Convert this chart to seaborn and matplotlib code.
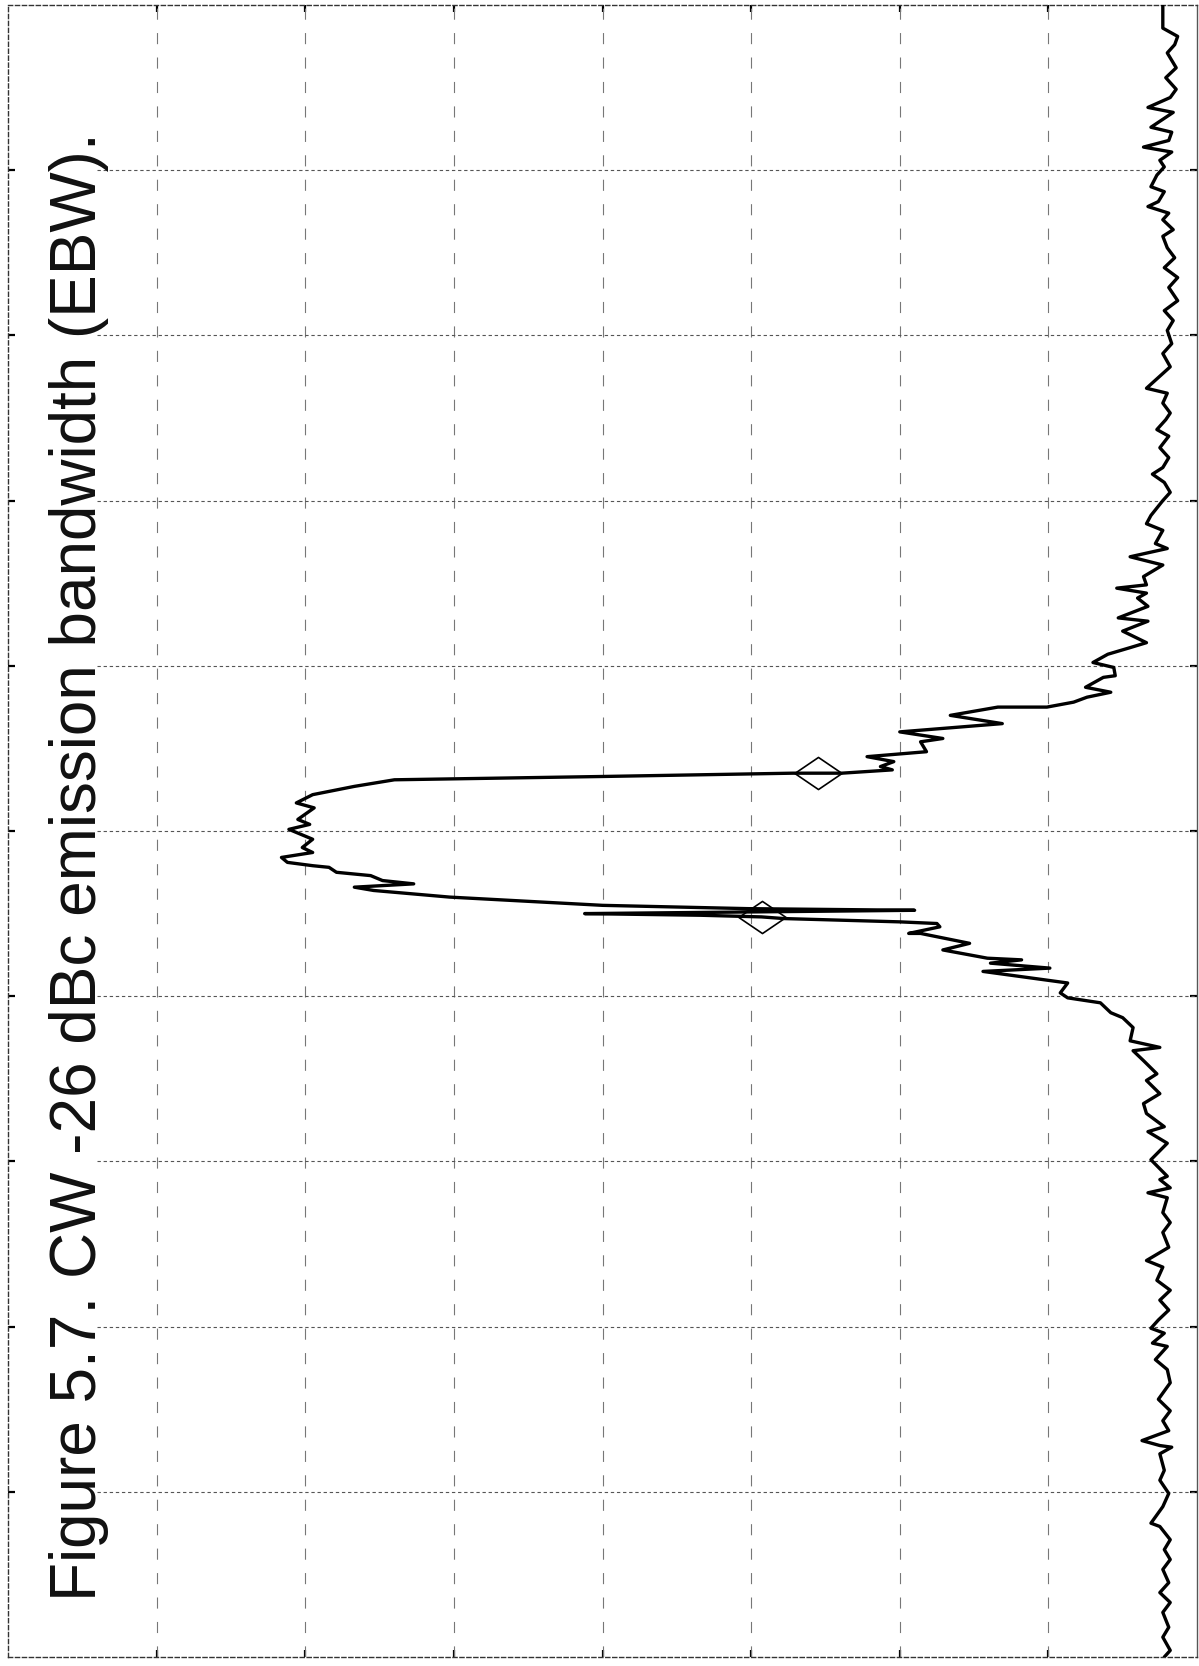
import numpy as np
import pandas as pd
import matplotlib
matplotlib.use("Agg")
import matplotlib.pyplot as plt
import seaborn as sns
from matplotlib.path import Path

# ---------------- data ----------------
# frequency position in divisions from screen centre (+5 = top edge, -5 = bottom edge)
freq_div = [
    5.00, 4.86, 4.81, 4.76, 4.71, 4.62, 4.56, 4.49, 4.44, 4.38, 4.35, 4.32, 4.26, 4.23, 4.18,
    4.14, 4.11, 4.06, 4.02, 3.97, 3.90, 3.87, 3.81, 3.78, 3.74, 3.70, 3.64, 3.60, 3.53, 3.47,
    3.41, 3.35, 3.29, 3.21, 3.15, 3.09, 3.03, 2.95, 2.89, 2.81, 2.68, 2.65, 2.59, 2.53, 2.49,
    2.43, 2.39, 2.32, 2.26, 2.20, 2.16, 2.11, 2.05, 2.00, 1.91, 1.86, 1.82, 1.74, 1.71, 1.66,
    1.61, 1.54, 1.49, 1.47, 1.44, 1.41, 1.36, 1.29, 1.27, 1.21, 1.14, 1.11, 1.07, 1.02, 0.99,
    0.94, 0.93, 0.87, 0.84, 0.81, 0.78, 0.75, 0.75, 0.70, 0.65, 0.60, 0.56, 0.54, 0.48, 0.45,
    0.42, 0.39, 0.37, 0.35, 0.35, 0.33, 0.31, 0.27, 0.22, 0.17, 0.14, 0.07, 0.04, 0.01, -0.05,
    -0.10, -0.13, -0.16, -0.19, -0.21, -0.22, -0.25, -0.27, -0.30, -0.32, -0.34, -0.36, -0.40,
    -0.45, -0.47, -0.48, -0.50, -0.51, -0.52, -0.53, -0.55, -0.56, -0.58, -0.62, -0.62, -0.68,
    -0.72, -0.77, -0.78, -0.80, -0.83, -0.85, -0.92, -0.98, -1.01, -1.04, -1.10, -1.13, -1.19,
    -1.27, -1.31, -1.33, -1.39, -1.47, -1.51, -1.59, -1.65, -1.71, -1.79, -1.82, -1.89, -1.99,
    -2.09, -2.11, -2.16, -2.19, -2.22, -2.31, -2.37, -2.43, -2.52, -2.60, -2.64, -2.72, -2.78,
    -2.84, -2.90, -2.96, -3.01, -3.04, -3.10, -3.12, -3.20, -3.26, -3.34, -3.44, -3.51, -3.57,
    -3.63, -3.69, -3.72, -3.73, -3.77, -3.87, -3.93, -4.01, -4.09, -4.19, -4.21, -4.29, -4.35,
    -4.41, -4.47, -4.55, -4.61, -4.67, -4.73, -4.82, -4.88, -4.96, -5.00,
]
# level in dB below the reference line (top of screen), 10 dB / div
level_db = [
    -77.7, -77.7, -78.7, -78.5, -78.0, -78.6, -77.9, -78.6, -78.2, -76.7, -78.4, -77.9, -76.9, -78.3, -78.1,
    -76.4, -78.3, -77.5, -77.8, -77.3, -76.9, -77.8, -77.4, -76.7, -78.1, -77.7, -78.4, -77.7, -78.0, -78.5,
    -77.8, -78.7, -78.1, -78.7, -77.8, -78.4, -78.0, -78.3, -77.7, -78.2, -76.6, -78.0, -77.7, -78.2, -77.9,
    -77.3, -78.1, -77.5, -78.1, -77.7, -77.0, -77.8, -78.2, -77.7, -76.9, -76.6, -77.7, -77.2, -78.0, -75.5,
    -77.7, -76.4, -76.6, -74.6, -76.6, -76.0, -76.7, -74.7, -76.7, -75.0, -76.6, -75.5, -74.0, -73.0, -74.4,
    -74.5, -73.7, -72.5, -74.2, -72.6, -71.7, -69.9, -66.6, -63.4, -66.9, -60.0, -62.9, -61.4, -61.8, -57.8,
    -59.6, -58.7, -59.5, -56.1, -52.8, -40.0, -26.0, -23.3, -20.5, -19.4, -20.6, -19.5, -20.3, -18.9, -20.5,
    -19.8, -20.5, -18.4, -18.8, -20.5, -21.6, -22.1, -24.4, -25.2, -27.3, -23.3, -24.6, -29.7,
    -40.0, -49.8, -61.0, -38.8, -46.6, -50.7, -52.2, -60.0, -62.5, -62.7, -60.6, -61.4, -64.7,
    -62.9, -65.9, -68.2, -66.1, -70.1, -65.6, -71.3, -70.8, -71.3, -73.5, -74.2, -75.0, -75.7,
    -75.5, -77.5, -75.7, -76.4, -77.3, -76.6, -77.5, -76.4, -76.6, -77.8, -76.7, -78.0, -76.9,
    -78.0, -77.5, -78.2, -76.7, -78.0, -77.7, -78.2, -77.7, -78.1, -76.6, -77.7, -77.3, -78.2,
    -77.5, -78.1, -77.4, -76.9, -77.8, -77.0, -78.0, -77.2, -78.0, -78.2, -77.4, -78.2, -77.7,
    -78.1, -76.3, -77.5, -78.3, -77.5, -77.8, -77.5, -78.1, -77.7, -76.9, -77.5, -78.2, -77.8,
    -78.2, -77.7, -78.1, -77.5, -78.2, -77.7, -78.1, -77.7, -78.2, -77.8,
]
# -26 dBc markers
marker_freq_div = [0.35, -0.52]
marker_level_db = [-54.5, -50.7]

title_text = "Figure 5.7. CW -26 dBc emission bandwidth (EBW)."

# ---------------- plot ----------------
sns.set_theme(style="white")
plt.rcParams["font.family"] = ["Liberation Sans", "DejaVu Sans"]

W, H = 1199, 1666
fig = plt.figure(figsize=(W / 100, H / 100), dpi=100)
fig.patch.set_facecolor("white")
ax = fig.add_axes([8 / W, 9 / H, 1189 / W, 1652 / H])
ax.set_facecolor("white")

ax.set_xlim(0, -80)
ax.set_ylim(-5, 5)

grid_x = np.arange(-70, 0, 10)
grid_y = np.arange(-4, 5, 1)
ax.vlines(grid_x, -5, 5, colors="#777777", linewidth=0.8, linestyles=(0, (10, 12)), zorder=1)
ax.hlines(grid_y, -6.0, -80, colors="#555555", linewidth=0.8, linestyles=(0, (3, 2.5)), zorder=1)

df = pd.DataFrame({"level_db": level_db, "freq_div": freq_div})
sns.lineplot(data=df, x="level_db", y="freq_div", sort=False, estimator=None,
             color="black", linewidth=2.4, ax=ax, zorder=3,
             solid_joinstyle="round", solid_capstyle="round")

diamond = Path([(-1, 0), (0, 0.68), (1, 0), (0, -0.68), (-1, 0)],
               [Path.MOVETO, Path.LINETO, Path.LINETO, Path.LINETO, Path.CLOSEPOLY])
ax.plot(marker_level_db, marker_freq_div, linestyle="none", marker=diamond,
        markersize=34, markerfacecolor="none", markeredgecolor="black",
        markeredgewidth=1.2, zorder=4)

ax.set_xlabel("")
ax.set_ylabel("")
ax.set_xticks(grid_x)
ax.set_yticks(grid_y)
ax.tick_params(axis="both", which="both", direction="in", length=5, width=1.6,
               color="black", top=True, bottom=True, left=True, right=True,
               labelbottom=False, labelleft=False, labeltop=False, labelright=False)

for side in ["top", "bottom", "left"]:
    ax.spines[side].set_linestyle((0, (3, 2)))
    ax.spines[side].set_linewidth(1.0)
    ax.spines[side].set_color("#333333")
ax.spines["right"].set_linewidth(1.0)
ax.spines["right"].set_color("#555555")

fig.text(96 / W, 1 - 867 / H, title_text, rotation=90, rotation_mode="anchor",
         ha="center", va="baseline", fontsize=46, color="#111111")

fig.savefig("out.png", dpi=100)
